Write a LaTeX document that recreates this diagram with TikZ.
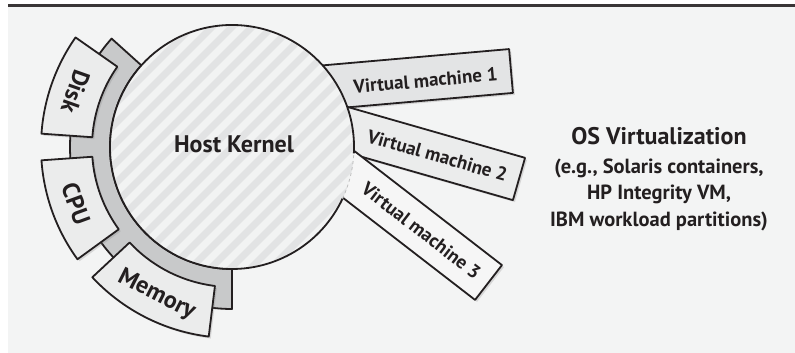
\documentclass[tikz,border=0pt]{standalone}
\usepackage{fontspec}
\setmainfont{PT Sans}
\usepackage{tikz,xcolor}
\usetikzlibrary{shadows}

\definecolor{bgcol}{HTML}{F3F4F4}
\definecolor{edgecol}{HTML}{231F20}
\definecolor{ringcol}{HTML}{C8C9CA}
\definecolor{boxcol}{HTML}{EBECEC}
\definecolor{stripelight}{HTML}{F2F3F3}
\definecolor{stripedark}{HTML}{E2E3E4}
\definecolor{vmone}{HTML}{E3E4E5}
\definecolor{vmtwo}{HTML}{EBECEC}
\definecolor{vmthree}{HTML}{F6F6F6}

\begin{document}
\begin{tikzpicture}[x=1pt, y=1pt, line join=round]
	% Define styles
	\tikzstyle{darkline}=[draw=edgecol, line width=1.8pt]
	\tikzstyle{castshadow}=[drop shadow={shadow xshift=2pt, shadow yshift=-2pt, opacity=0.25}]
	\tikzstyle{part}=[darkline, fill=boxcol, castshadow]
	\tikzstyle{vmbox}=[darkline, castshadow]
	\tikzstyle{stripe}=[draw=stripedark, line width=7pt]
	\tikzstyle{mouthline}=[draw=black!25, line width=0.8pt, dashed]
	\tikzstyle{partlabel}=[font=\bfseries\fontsize{24}{24}\selectfont, text=edgecol, inner sep=0pt]
	\tikzstyle{vmlabel}=[font=\bfseries\fontsize{19}{19}\selectfont, text=edgecol, inner sep=0pt, transform shape]
	\tikzstyle{kernellabel}=[font=\bfseries\fontsize{24}{24}\selectfont, text=edgecol, inner sep=0pt]
	\tikzstyle{titlelabel}=[font=\bfseries\fontsize{24}{24}\selectfont, text=edgecol, inner sep=0pt]
	\tikzstyle{examplelabel}=[font=\bfseries\fontsize{20.5}{20.5}\selectfont, text=edgecol, inner sep=0pt]
	
	\useasboundingbox (0,0) rectangle (795,353);
	\fill[bgcol] (8,0) rectangle (795,346);
	\draw[edgecol!90, line width=3pt] (8,347.5) -- (795,347.5);
	
	% virtual machines
	\begin{scope}[shift={(511,282)}, rotate=5]
		\filldraw[vmbox, fill=vmone] (-220,-22) rectangle (0,22);
		\node[vmlabel] (vm1) at (-86,-2) {Virtual machine 1};
	\end{scope}
	
	\begin{scope}[shift={(519,174)}, rotate=-16]
		\filldraw[vmbox, fill=vmtwo] (-220,-22) rectangle (0,22);
		\node[vmlabel] (vm2) at (-85,0) {Virtual machine 2};
	\end{scope}
	
	\begin{scope}[shift={(488.5,70.5)}, rotate=-37.7]
		\filldraw[vmbox, fill=vmthree] (-220,-22) rectangle (0,22);
		\node[vmlabel] (vm3) at (-85,0) {Virtual machine 3};
	\end{scope}
	
	% host kernel with its ring of resources
	\begin{scope}[shift={(232,206)}]
		\filldraw[darkline, fill=ringcol] (138:122) arc (138:270:122) -- (270:162) arc (270:138:162) -- cycle;
		
		\fill[stripelight] (0,0) circle (122);
		\begin{scope}
			\clip (0,0) circle (122);
			\foreach \k in {-12,...,12}
				\draw[stripe] (\k*20-150,-150) -- (\k*20+150,150);
		\end{scope}
		\draw[darkline] (-3:122) arc (-3:335:122);
		\draw[mouthline] (335:122) arc (335:357:122);
		
		\node[kernellabel, anchor=base] (kernel) at (2,-6) {Host Kernel};
		
		\foreach \a/\b/\lbl in {145/176/Disk, 184/216/CPU, 223/263/Memory}{
			\pgfmathsetmacro{\m}{(\a+\b)/2}
			\filldraw[part] (\a:140) arc (\a:\b:140) -- (\b:191) arc (\b:\a:191) -- cycle;
			\node[partlabel, rotate=\m+90] (\lbl) at (\m:166) {\lbl};
		}
	\end{scope}
	
	% caption
	\node[titlelabel, anchor=base] (ostitle) at (659,208) {OS Virtualization};
	\node[examplelabel, anchor=base] (example1) at (659,179) {(e.g., Solaris containers,};
	\node[examplelabel, anchor=base] (example2) at (659,153) {HP Integrity VM,};
	\node[examplelabel, anchor=base] (example3) at (659,126) {IBM workload partitions)};
	
\end{tikzpicture}
\end{document}
